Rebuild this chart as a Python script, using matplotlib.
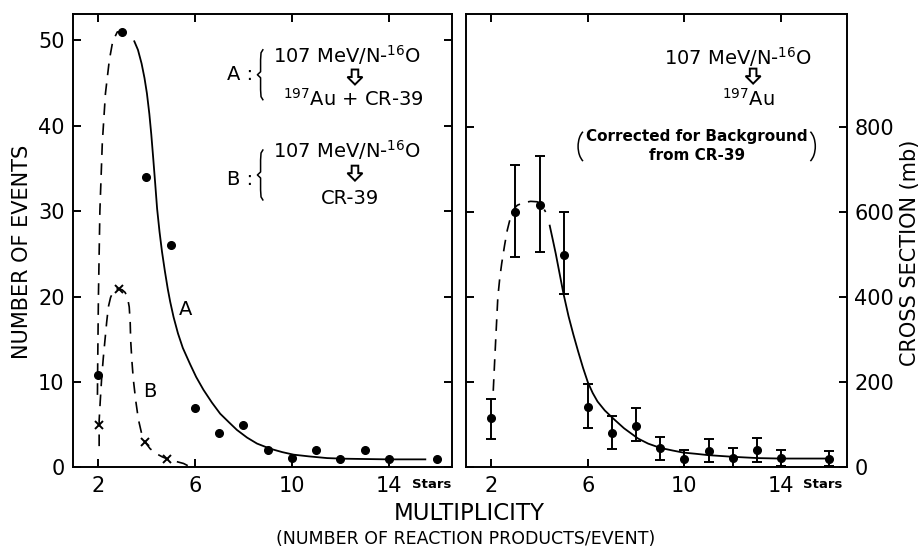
import numpy as np
import matplotlib.pyplot as plt
from matplotlib.patches import Arc, Polygon

plt.rcParams['font.family'] = ['DejaVu Sans']
plt.rcParams['mathtext.default'] = 'regular'

# --- left panel: number of events ---
mult_a = [2, 3, 4, 5, 6, 7, 8, 9, 10, 11, 12, 13, 14, 16]
events_a = [10.8, 51, 34, 26, 7, 4, 5, 2, 1.1, 2, 1, 2, 1, 1.05]
mult_b = [2.05, 2.88, 3.94, 4.86]
events_b = [5, 20.9, 3.0, 1.0]

# curves
a_rise_x = [1.98, 1.99, 2.02, 2.08, 2.18, 2.31, 2.47, 2.61, 2.8, 2.98]
a_rise_y = [8.5, 12, 20, 30, 38, 43.8, 47.7, 49.9, 51, 51]
a_fit_x = [3.5, 3.65, 3.8, 3.92, 4.02, 4.12, 4.2, 4.28, 4.36, 4.44, 4.54, 4.64, 4.76, 4.88,
           4.98, 5.12, 5.3, 5.5, 5.8, 6.05, 6.35, 6.7, 7.04, 7.4, 7.73, 8.15, 8.56, 9.1,
           9.6, 10.07, 10.7, 11.45, 12.1, 12.8, 14.0, 15.5]
a_fit_y = [49.9, 48.9, 47.3, 45.6, 43.8, 41.4, 39.0, 36.2, 33.3, 30.3, 27.6, 25.3, 23.0, 20.9,
           19.4, 17.6, 15.7, 14.0, 12.1, 10.6, 9.1, 7.6, 6.3, 5.3, 4.4, 3.5, 2.8, 2.2,
           1.8, 1.5, 1.3, 1.1, 1.03, 1.0, 0.95, 0.95]
b_fit_x = [2.05, 2.05, 2.1, 2.15, 2.22, 2.29, 2.36, 2.43, 2.52, 2.63, 2.75, 2.88, 3.0, 3.12,
           3.22, 3.29, 3.33, 3.35, 3.4, 3.46, 3.56, 3.67, 3.8, 3.94, 4.15, 4.42, 4.65, 4.86,
           5.2, 5.53, 5.85]
b_fit_y = [2.5, 5.5, 8.0, 10.3, 12.8, 14.9, 17.0, 18.8, 19.9, 20.6, 20.9, 20.9, 20.8, 20.5,
           19.9, 18.8, 17.0, 14.9, 12.5, 10.3, 7.8, 5.6, 4.0, 3.0, 2.2, 1.6, 1.25, 1.0,
           0.72, 0.47, 0.0]

# --- right panel: cross section (mb) ---
mult_c = [2, 3, 4, 5, 6, 7, 8, 9, 10, 11, 12, 13, 14, 16]
xsec = [116, 600, 617, 498, 141, 80, 98, 45, 20, 38, 22, 41, 22, 21]
xsec_hi = [162, 711, 731, 600, 196, 122, 140, 72, 42, 68, 46, 69, 42, 39]
xsec_lo = [67, 494, 507, 408, 93, 43, 63, 17, 0, 12, 0, 14, 4, 4]

c_rise_x = [2.08, 2.13, 2.18, 2.27, 2.35, 2.43, 2.55, 2.66, 2.77, 2.87, 2.98, 3.08, 3.35,
            3.63, 3.9, 4.1, 4.25]
c_rise_y = [180, 240, 298, 400, 445, 479, 522, 557, 582, 600, 610, 616, 622, 625, 624, 615, 600]
c_fit_x = [4.42, 4.55, 4.67, 4.83, 4.99, 5.2, 5.4, 5.6, 5.8, 6.0, 6.2, 6.4, 6.7, 7.05,
           7.5, 8.08, 8.5, 9.0, 9.5, 9.95, 10.5, 10.99, 12.03, 13.06, 13.96, 16.0]
c_fit_y = [568, 534, 502, 455, 408, 355, 312, 272, 234, 200, 175, 155, 134, 115,
           92, 68, 56, 46, 40, 35, 32, 29, 25, 22, 21, 21]

xticks = [2, 6, 10, 14]
events_ticks = [0, 10, 20, 30, 40, 50]
xsec_ticks = [0, 200, 400, 600, 800]

fig = plt.figure(figsize=(9.2, 5.46), dpi=100)
ax1 = fig.add_axes([0.0793, 0.1438, 0.412, 0.8306])
ax2 = fig.add_axes([0.5065, 0.1438, 0.4145, 0.8306])

dash = (0, (7, 5))
ax1.plot(a_rise_x, a_rise_y, color='k', lw=1.2, ls=dash)
ax1.plot(a_fit_x, a_fit_y, color='k', lw=1.3)
ax1.plot(b_fit_x, b_fit_y, color='k', lw=1.2, ls=dash)
ax1.plot(mult_a, events_a, 'o', color='k', ms=5.5)
ax1.plot(mult_b, events_b, 'x', color='k', ms=6, mew=1.4)

ax2.plot(c_rise_x, c_rise_y, color='k', lw=1.2, ls=dash)
ax2.plot(c_fit_x, c_fit_y, color='k', lw=1.3)
yerr = [np.array(xsec) - np.array(xsec_lo), np.array(xsec_hi) - np.array(xsec)]
ax2.errorbar(mult_c, xsec, yerr=yerr, fmt='o', color='k', ms=5.5,
             elinewidth=1.4, capsize=3.5, capthick=1.4)

ax1.set_xlim(0.97, 16.6)
ax2.set_xlim(0.95, 16.75)
ax1.set_ylim(0, 53.1)
ax2.set_ylim(0, 1065)
ax1.set_yticks(events_ticks)
ax2.set_yticks(xsec_ticks)

for ax in (ax1, ax2):
    ax.set_xticks(xticks)
    ax.tick_params(direction='in', top=True, right=True, length=6, width=1.4,
                   labelsize=15, pad=6)
    for s in ax.spines.values():
        s.set_linewidth(1.4)
    ax.text(15.75, -0.037, 'Stars', transform=ax.get_xaxis_transform(),
            ha='center', va='center', fontsize=9.5, fontweight='bold')
ax2.tick_params(axis='y', labelleft=False, labelright=True, pad=5)


def px(ax):
    # size of one pixel in axes fraction
    bb = ax.get_position()
    return 1 / (bb.width * 920), 1 / (bb.height * 546)


def brace(ax, xc, yc, h, w):
    # thin left-pointing curly brace in axes fraction
    xs = [xc + 0.5 * w, xc + 0.1 * w, xc, xc, xc - 0.7 * w, xc, xc, xc + 0.1 * w, xc + 0.5 * w]
    ys = [yc + h / 2, yc + 0.44 * h, yc + 0.3 * h, yc + 0.06 * h, yc,
          yc - 0.06 * h, yc - 0.3 * h, yc - 0.44 * h, yc - h / 2]
    ax.plot(xs, ys, color='k', lw=1.1, transform=ax.transAxes, clip_on=False)


def down_arrow(ax, xc, yc):
    # hollow down arrow, about 15x15 px
    dx, dy = px(ax)
    w, h = 15 * dx, 15 * dy
    pts = [(xc - 0.22 * w, yc + h / 2), (xc + 0.22 * w, yc + h / 2), (xc + 0.22 * w, yc),
           (xc + 0.5 * w, yc), (xc, yc - h / 2), (xc - 0.5 * w, yc), (xc - 0.22 * w, yc)]
    ax.add_patch(Polygon(pts, closed=True, fill=False, lw=1.4, ec='k',
                         transform=ax.transAxes))


# left annotations
txt = dict(transform=ax1.transAxes, ha='center', va='center', fontsize=14)
ax1.text(0.44, 0.866, 'A :', **txt)
brace(ax1, 0.495, 0.866, 0.11, 0.012)
ax1.text(0.722, 0.91, '107 MeV/N-$^{16}$O', **txt)
down_arrow(ax1, 0.744, 0.861)
ax1.text(0.739, 0.812, '$^{197}$Au + CR-39', **txt)
ax1.text(0.44, 0.636, 'B :', **txt)
brace(ax1, 0.495, 0.645, 0.11, 0.012)
ax1.text(0.722, 0.70, '107 MeV/N-$^{16}$O', **txt)
down_arrow(ax1, 0.744, 0.649)
ax1.text(0.731, 0.594, 'CR-39', **txt)
ax1.text(5.6, 18.5, 'A', ha='center', va='center', fontsize=14)
ax1.text(4.14, 8.9, 'B', ha='center', va='center', fontsize=14)

# right annotations
txt2 = dict(transform=ax2.transAxes, ha='center', va='center')
ax2.text(0.714, 0.905, '107 MeV/N-$^{16}$O', fontsize=14, **txt2)
down_arrow(ax2, 0.753, 0.863)
ax2.text(0.74, 0.812, '$^{197}$Au', fontsize=14, **txt2)
ax2.text(0.606, 0.729, 'Corrected for Background', fontsize=11, fontweight='bold', **txt2)
ax2.text(0.606, 0.687, 'from CR-39', fontsize=11, fontweight='bold', **txt2)
ax2.add_patch(Arc((0.294 + 0.026, 0.708), 0.052, 0.075, theta1=112, theta2=248,
                  transform=ax2.transAxes, color='k', lw=1.1))
ax2.add_patch(Arc((0.916 - 0.026, 0.708), 0.052, 0.075, theta1=-68, theta2=68,
                  transform=ax2.transAxes, color='k', lw=1.1))

fig.text(0.024, 0.538, 'NUMBER OF EVENTS', rotation=90, ha='center', va='center', fontsize=15)
fig.text(0.989, 0.537, 'CROSS SECTION (mb)', rotation=90, ha='center', va='center', fontsize=15)
fig.text(0.51, 0.0476, 'MULTIPLICITY', ha='center', va='baseline', fontsize=16.5)
fig.text(0.506, 0.004, '(NUMBER OF REACTION PRODUCTS/EVENT)', ha='center', va='baseline',
         fontsize=12.5)

fig.savefig('out.png', dpi=100)
